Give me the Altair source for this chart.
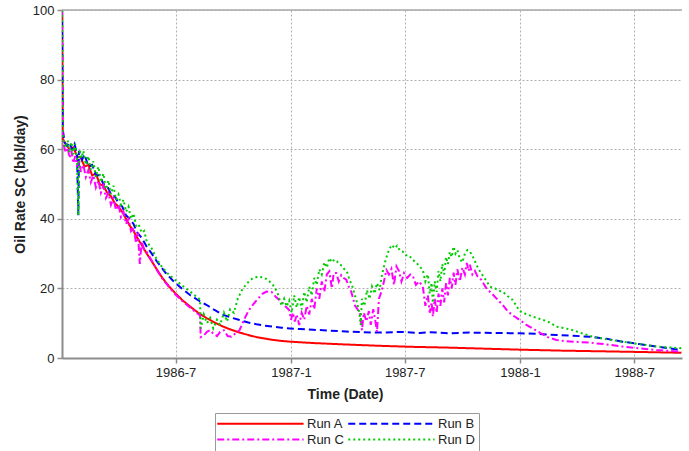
import altair as alt
import pandas as pd

# Simulation start date; each series is given as day offsets from it
START = "1986-01-01"
SERIES = ["Run A", "Run B", "Run C", "Run D"]
COLORS = ["#FF0000", "#0000FF", "#FF00FF", "#00CC00"]
DASHES = [[1, 0], [7, 4], [7, 3, 2, 3], [2, 3]]

run_a_days = [0, 1, 6, 12, 18, 24, 30, 36, 42, 48, 54, 60, 66, 72, 78, 84, 90, 96, 102, 108,
              114, 120, 127, 135, 143, 151, 160, 170, 180, 192, 204, 217, 230, 243, 257, 270,
              283, 297, 310, 323, 336, 350, 363, 400, 450, 506, 560, 613, 670, 729, 800, 868,
              930, 987]
run_a_rate = [100, 63, 61.5, 60, 60.5, 58, 57.5, 55, 55.5, 52.5, 53, 50, 49.5, 47.5, 46.5, 44.5,
              43.5, 42, 40, 38, 36.5, 34.5, 32.5, 30, 27.8, 25.5, 23, 20.7, 18.7, 16.6, 14.8, 13,
              11.5, 10.2, 9.0, 8.1, 7.3, 6.6, 6.0, 5.6, 5.2, 4.9, 4.7, 4.3, 3.9, 3.5, 3.2, 3.0,
              2.7, 2.4, 2.1, 1.9, 1.7, 1.5]

run_b_days = [0, 1, 4, 8, 12, 16, 20, 24, 26, 27, 32, 36, 42, 48, 54, 60, 66, 72, 78, 84, 90,
              96, 102, 108, 114, 120, 127, 135, 143, 151, 165, 180, 192, 204, 217, 230, 243, 257,
              270, 283, 297, 310, 323, 336, 350, 363, 380, 400, 425, 453, 480, 506, 540, 570, 586,
              620, 650, 690, 729, 760, 788, 815, 841, 868, 893, 920, 947, 970, 987]
run_b_rate = [100, 66, 62, 61, 62, 60, 61.5, 58.5, 41, 59.5, 57, 58.5, 55, 55.5, 52.5, 52.5, 50,
              49.5, 47, 46.5, 44.5, 43.5, 41, 40, 38.5, 36, 34.5, 32, 30, 27.8, 24.5, 21.6, 19.8,
              18.1, 16.6, 15.3, 13.8, 12.4, 11.6, 10.9, 10.2, 9.7, 9.3, 9.0, 8.7, 8.5, 8.3, 8.1,
              7.9, 7.6, 7.4, 7.3, 7.5, 7.2, 7.4, 7.1, 7.3, 7.2, 7.1, 6.9, 6.6, 6.4, 6.1, 5.5, 4.7,
              4.0, 3.3, 2.7, 2.3]

run_c_days = [0, 1, 3, 6, 9, 12, 15, 18, 21, 24, 27, 30, 34, 38, 42, 46, 50, 54, 58, 62, 66, 70,
              74, 78, 82, 86, 90, 94, 98, 102, 106, 110, 114, 118, 121, 124, 127, 131, 135, 143,
              151, 160, 170, 180, 192, 204, 213, 220, 221, 226, 231, 236, 241, 247, 252, 258, 264,
              270, 276, 283, 290, 297, 305, 312, 320, 326, 334, 341, 347, 353, 358, 362, 365, 368,
              371, 374, 378, 382, 386, 390, 394, 398, 402, 406, 410, 414, 418, 422, 426, 430, 433,
              437, 441, 445, 449, 453, 457, 461, 463, 467, 471, 475, 478, 481, 485, 489, 492, 496,
              499, 502, 505, 509, 513, 517, 521, 525, 529, 533, 537, 541, 545, 550, 555, 559, 564,
              569, 575, 579, 583, 586, 589, 591, 594, 597, 600, 603, 606, 609, 612, 615, 618, 621,
              624, 627, 630, 634, 638, 642, 645, 648, 650, 654, 658, 662, 668, 676, 685, 693, 702,
              710, 718, 729, 740, 750, 762, 774, 788, 800, 815, 841, 868, 893, 920, 947, 970, 987]
run_c_rate = [100, 62, 61, 59, 60.5, 57.5, 59.5, 56, 58, 55, 57, 53.5, 55.5, 52, 54, 50.5, 52.5,
              49, 51, 47.5, 49.5, 46, 47.5, 44, 46, 42.5, 44, 40.5, 42, 38.5, 40, 36.5, 37.5, 33,
              36, 27, 33.5, 31, 30.5, 28, 25.3, 22.8, 20.5, 18.4, 16.3, 14.5, 13.2, 12.2, 6, 6.5,
              7.5, 8, 7, 6.3, 7.5, 8, 6.3, 6.1, 7, 8, 11, 13.5, 15.5, 17, 18.5, 19.1, 19, 17.5,
              16.6, 15.3, 14.5, 13.8, 11, 13, 10.5, 12.5, 9.5, 13, 11, 15, 12.5, 17, 14, 20, 17,
              22, 19, 24, 24.9, 20, 24.4, 24.4, 22, 23.8, 23, 22.5, 20.5, 19, 17.7, 15, 14, 12.5,
              8, 13, 10.5, 13.5, 9.5, 14, 11, 7.5, 17, 19, 22, 25.3, 24, 25.6, 21, 26.3, 25, 22,
              24.4, 23, 24, 23.6, 21, 22, 20.5, 15, 18, 13, 16, 11.9, 17, 13, 18.5, 15, 20, 16,
              21.5, 18, 23, 20, 24.5, 21, 25.5, 22, 26, 24, 27.3, 25, 26.8, 24, 25, 23.5, 22.5,
              20.1, 18.5, 17, 15.3, 13.5, 12.3, 11, 9.5, 8.5, 7.2, 6.0, 5.2, 4.9, 4.7, 4.4, 3.9,
              3.3, 2.8, 2.3, 2.0, 1.8]

run_d_days = [0, 1, 3, 6, 9, 12, 15, 18, 21, 24, 26, 28, 31, 34, 38, 42, 46, 50, 54, 58, 62, 66,
              70, 74, 78, 82, 86, 90, 94, 98, 102, 106, 110, 114, 118, 122, 127, 131, 135, 143,
              151, 160, 170, 180, 192, 204, 213, 220, 221, 226, 231, 236, 241, 247, 252, 258, 263,
              268, 274, 280, 287, 295, 303, 312, 320, 328, 336, 343, 350, 354, 358, 362, 366, 370,
              374, 378, 382, 386, 390, 394, 398, 402, 406, 410, 414, 418, 422, 426, 430, 434, 438,
              442, 446, 450, 454, 458, 462, 466, 470, 474, 476, 478, 482, 486, 490, 494, 498, 502,
              506, 510, 514, 518, 522, 526, 530, 534, 538, 543, 548, 553, 559, 564, 569, 575, 579,
              583, 586, 589, 591, 594, 597, 600, 603, 606, 609, 612, 615, 618, 621, 624, 627, 630,
              634, 638, 642, 646, 650, 655, 660, 664, 668, 675, 682, 690, 697, 702, 710, 718, 724,
              729, 740, 750, 762, 774, 788, 800, 814, 830, 846, 870, 893, 920, 947, 970, 987]
run_d_rate = [100, 64, 62, 60.5, 62.5, 59, 62, 58.5, 61.5, 57, 41, 60, 57.5, 59.5, 55.5, 58, 54,
              56.5, 52, 55, 50.5, 53, 48.5, 51, 47, 49.5, 45.5, 47, 44, 45.5, 42, 43.5, 40, 41.5,
              38, 38.5, 36, 36.5, 33.5, 31.5, 28.3, 26, 24, 22.5, 20.8, 19.1, 17.8, 16.8, 8.5,
              12.5, 10, 11.5, 8.5, 11, 9.5, 13, 10.5, 14, 13, 17, 19.6, 21.5, 22.8, 23.4, 23.2,
              22.5, 21, 19, 15, 17, 14.8, 16.5, 13, 18, 14.5, 17.5, 14, 19, 16, 20.5, 18, 23, 21,
              25.5, 24, 27.5, 26, 28.7, 27.5, 28.3, 27.8, 27, 26.5, 25.5, 24.9, 22.5, 21, 18.5,
              16, 13, 9.5, 17, 15, 19.5, 17, 20.5, 18.5, 21.5, 19.5, 24, 27, 29.5, 31.5, 32.5,
              31.5, 32.3, 31, 30.6, 29.5, 29.5, 28.2, 27.5, 26.5, 25.3, 22, 24, 18.5, 21.6, 15.8,
              22, 19, 25, 22, 27, 24, 29, 27, 30.5, 29, 32, 30, 31, 28.5, 27.5, 30, 31, 30.6, 29,
              27, 25.5, 24.4, 22.5, 20.5, 20, 19.3, 19.1, 17.8, 16.7, 15, 13.5, 12.6, 11.9, 11.2,
              10.5, 9.0, 8.6, 8.0, 7.0, 6.1, 5.3, 4.7, 4.0, 3.3, 3.0, 2.8]

# X-axis tick positions and the visible time window
tick_dates = [(1986, 7), (1987, 1), (1987, 7), (1988, 1), (1988, 7)]
x_start = "1986-01-01T00:00:00"
x_end = "1988-09-15T00:00:00"
y_ticks = [0, 20, 40, 60, 80, 100]

frames = []
for name, days, rate in zip(SERIES,
                            [run_a_days, run_b_days, run_c_days, run_d_days],
                            [run_a_rate, run_b_rate, run_c_rate, run_d_rate]):
    frames.append(pd.DataFrame({
        "series": name,
        "date": pd.Timestamp(START) + pd.to_timedelta(days, unit="D"),
        "rate": rate,
    }))
df = pd.concat(frames, ignore_index=True)
df["date"] = df["date"].dt.strftime("%Y-%m-%dT%H:%M:%S")

FONT = "Liberation Sans"
TEXT = "#222222"

# Long line swatches drawn from a custom path, labels right after them
legend = alt.Legend(
    title=None, orient="none", legendX=153, legendY=403,
    direction="horizontal", columns=2, columnPadding=0, rowPadding=2,
    symbolType="M-1.5,0H14.2", symbolSize=121, symbolStrokeWidth=2,
    labelOffset=75, labelFont=FONT, labelFontSize=13, labelColor=TEXT,
    strokeColor="#999999", fillColor="white", padding=4,
)

x_axis = alt.Axis(
    values=[alt.DateTime(year=y, month=m, date=1) for y, m in tick_dates],
    format="%Y-%-m", title="Time (Date)", titleX=283, titlePadding=8,
    labelPadding=3, tickSize=5,
)
y_axis = alt.Axis(values=y_ticks, title="Oil Rate SC (bbl/day)", titlePadding=5,
                  labelPadding=3, tickSize=5)

lines = alt.Chart(df).mark_line(strokeWidth=2, clip=True).encode(
    x=alt.X("date:T", scale=alt.Scale(domain=[x_start, x_end]), axis=x_axis),
    y=alt.Y("rate:Q", scale=alt.Scale(domain=[0, 100]), axis=y_axis),
    color=alt.Color("series:N", scale=alt.Scale(domain=SERIES, range=COLORS), legend=legend),
    strokeDash=alt.StrokeDash("series:N", scale=alt.Scale(domain=SERIES, range=DASHES),
                              legend=legend),
)

# Solid frame line along the top of the plot
top_line = alt.Chart().mark_rule(color="#aaaaaa", strokeWidth=1.5).encode(
    y=alt.datum(100, type="quantitative")
)

chart = alt.layer(lines, top_line).properties(
    width=620, height=348,
    autosize=alt.AutoSizeParams(type="none"),
    padding={"left": 62, "top": 10, "right": 7, "bottom": 93},
    background="white",
).configure_view(stroke=None).configure_axis(
    labelFont=FONT, labelFontSize=13, labelColor=TEXT,
    titleFont=FONT, titleFontSize=14, titleFontWeight="bold", titleColor=TEXT,
    domainColor="#8c8c8c", domainWidth=2, tickColor="#8c8c8c", tickWidth=1.5,
    gridColor="#b0b0b0", gridDash=[2, 2], gridWidth=1,
)

chart.save("out.html", embed_options={"renderer": "svg", "actions": False})
